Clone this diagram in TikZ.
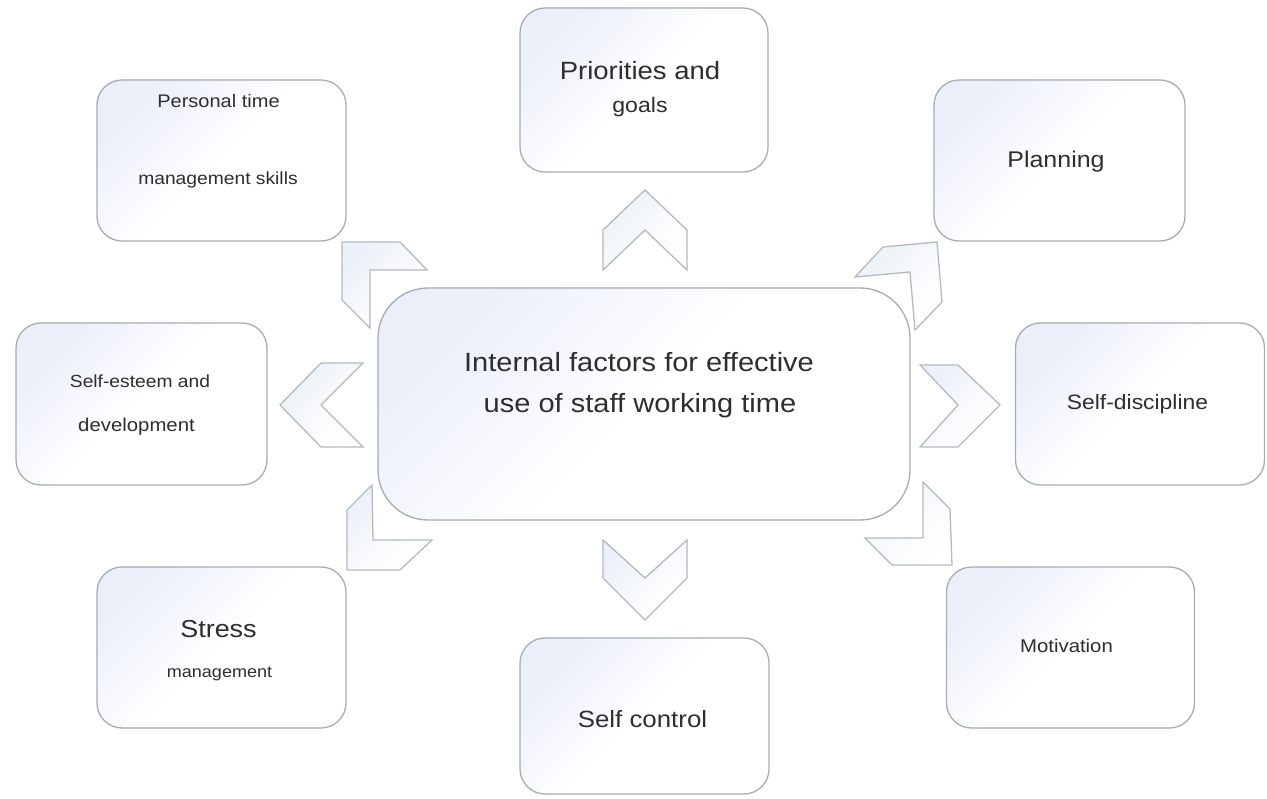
\documentclass[tikz,border=0pt]{standalone}
\usepackage{fontspec}
\setmainfont{Liberation Sans}
\newfontfamily\widesans[FakeStretch=1.1]{Liberation Sans}
\definecolor{edgegray}{HTML}{A7ADB2}
\definecolor{chevgray}{HTML}{B4BAC0}
\definecolor{tintblue}{HTML}{EAEFF9}
\definecolor{chevblue}{HTML}{EBF1F8}
\definecolor{textgray}{HTML}{2E2E2E}
\newcommand{\fs}[1]{\widesans\fontsize{#1}{#1}\selectfont}
\tikzset{
  factorbox/.style={draw=edgegray, line width=1.3pt, rounded corners=25pt,
    top color=tintblue, bottom color=white, middle color=white, shading angle=45,
    inner sep=0pt, outer sep=0pt},
  chevshape/.style={draw=chevgray, line width=1.3pt, line join=miter,
    top color=chevblue, bottom color=white, middle color=white!60!chevblue, shading angle=45},
  lbl/.style={anchor=base, inner sep=0pt, text=textgray}
}
\begin{document}
\begin{tikzpicture}[x=1pt,y=-1pt]
\useasboundingbox (0,0) rectangle (1267,799);
\fill[white] (0,0) rectangle (1267,799);

% boxes
\node[factorbox, rounded corners=50pt, minimum width=532pt, minimum height=232pt] (center) at (644,404) {};
\node[factorbox, minimum width=248pt, minimum height=164pt] (prio) at (644,90) {};
\node[factorbox, minimum width=249pt, minimum height=161pt] (personal) at (221.5,160.5) {};
\node[factorbox, minimum width=251pt, minimum height=161pt] (planning) at (1059.5,160.5) {};
\node[factorbox, minimum width=251pt, minimum height=162pt] (esteem) at (141.5,404) {};
\node[factorbox, minimum width=249pt, minimum height=162pt] (discipline) at (1140,404) {};
\node[factorbox, minimum width=249pt, minimum height=161pt] (stress) at (221.5,647.5) {};
\node[factorbox, minimum width=249pt, minimum height=156pt] (selfcontrol) at (644.5,716) {};
\node[factorbox, minimum width=248pt, minimum height=161pt] (motivation) at (1070.5,647.5) {};

% chevrons
\path[chevshape] (603,270) -- (603,230) -- (645,190) -- (687,230) -- (687,270) -- (645,230) -- cycle;
\path[chevshape] (603,540) -- (603,578) -- (645,620) -- (687,578) -- (687,540) -- (645,578) -- cycle;
\path[chevshape] (363,363) -- (321,363) -- (280,405) -- (321,447) -- (363,447) -- (321,405) -- cycle;
\path[chevshape] (920,365) -- (958,365) -- (1000,405) -- (958,447) -- (920,447) -- (958,405) -- cycle;
\path[chevshape] (342,242) -- (400,242) -- (427,270) -- (370,270) -- (370,328) -- (342,300) -- cycle;
\path[chevshape] (855,277) -- (883,247) -- (937,242) -- (942,302) -- (915,330) -- (910,272) -- cycle;
\path[chevshape] (372,485) -- (347,510) -- (347,570) -- (400,570) -- (432,540) -- (373,540) -- cycle;
\path[chevshape] (923,482) -- (950,509) -- (952,565) -- (892,565) -- (865,538) -- (923,538) -- cycle;

% labels
\node[lbl] (c1) at (639,372) {\fs{26.4}Internal factors for effective};
\node[lbl] (c2) at (640,413) {\fs{26.4}use of staff working time};
\node[lbl] (p1) at (640,80) {\fs{25}Priorities and};
\node[lbl] (p2) at (640,113) {\fs{21}goals};
\node[lbl] (pl) at (1056,168) {\fs{22.7}Planning};
\node[lbl] (pt1) at (218.5,108) {\fs{18.2}Personal time};
\node[lbl] (pt2) at (218,185) {\fs{17.5}management skills};
\node[lbl] (se1) at (140,388) {\fs{17.5}Self-esteem and};
\node[lbl] (se2) at (136.5,432) {\fs{18.5}development};
\node[lbl] (sd) at (1137.5,410) {\fs{20.8}Self-discipline};
\node[lbl] (mo) at (1066.5,652) {\fs{18.5}Motivation};
\node[lbl] (st1) at (218.5,637) {\fs{24.5}Stress};
\node[lbl] (st2) at (219.5,677) {\fs{16.4}management};
\node[lbl] (sc) at (642.5,727) {\fs{23.5}Self control};
\end{tikzpicture}
\end{document}
